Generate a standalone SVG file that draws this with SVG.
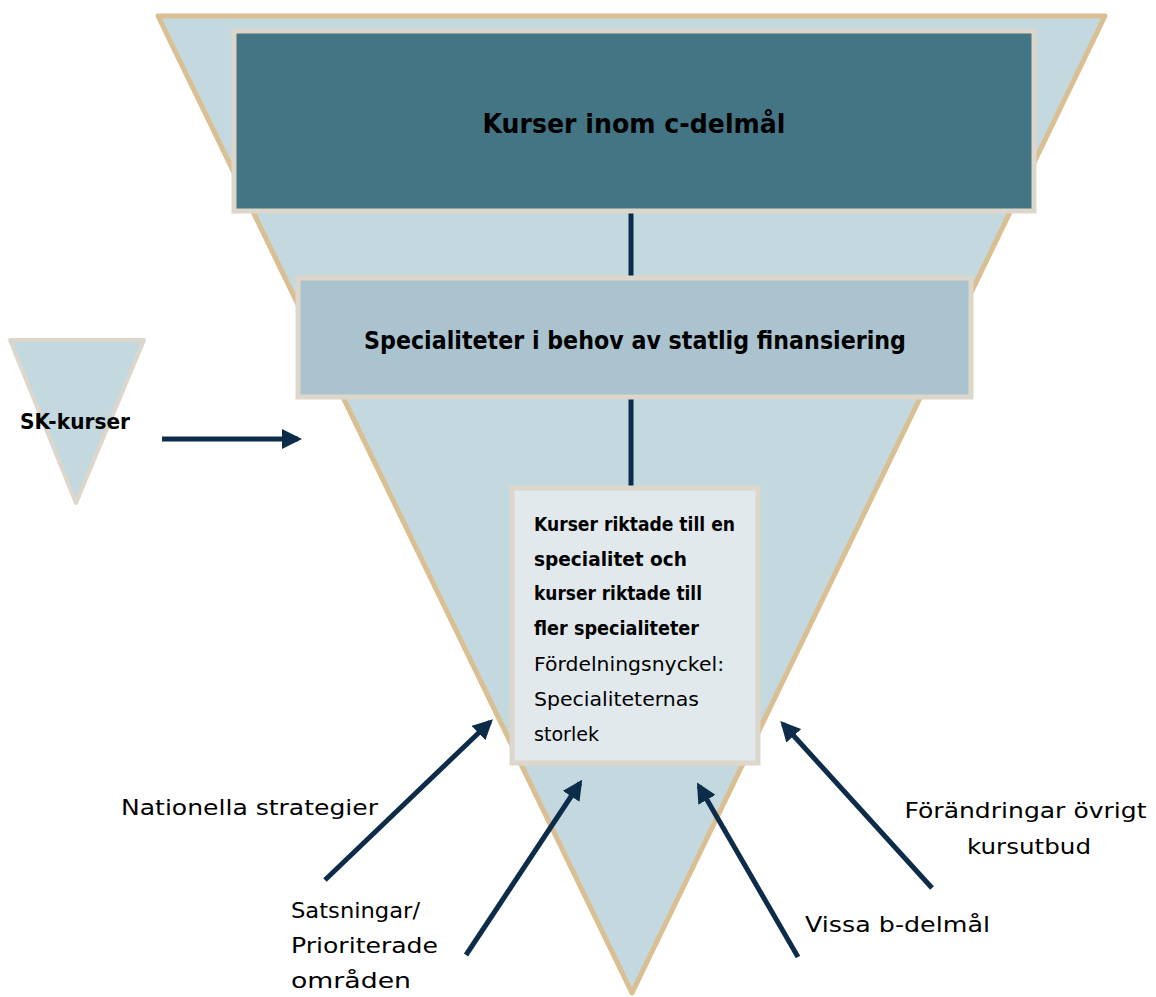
<svg xmlns="http://www.w3.org/2000/svg" width="1156" height="997" viewBox="0 0 1156 997">
<defs>
<style>
.tri{fill:#c4d8df;stroke:#d9bf92;stroke-width:5;stroke-linejoin:round}
.box{stroke:#ddd6ca;stroke-width:5}
.t{font-family:"DejaVu Sans","Liberation Sans",sans-serif;fill:#000}
.b{font-weight:bold}
.con{stroke:#0d2c4a;stroke-width:5;fill:none}
.arr{stroke:#0d2c4a;stroke-width:5;fill:none;marker-end:url(#ah)}
</style>
<marker id="ah" viewBox="0 0 10 10" refX="8" refY="5" markerWidth="4" markerHeight="4" orient="auto" markerUnits="strokeWidth">
<path d="M0,0 L10,5 L0,10 Z" fill="#0d2c4a"/>
</marker>
</defs>
<g id="funnel">
<polygon class="tri" points="158,16 1105,16 632,993"/>
</g>
<g id="sk">
<polygon points="10,340 144,340 76,503" fill="#c4d8df" stroke="#ddd6ca" stroke-width="4" stroke-linejoin="round"/>
<text class="t b" x="20" y="429" font-size="21" textLength="110" lengthAdjust="spacingAndGlyphs">SK-kurser</text>
</g>
<g id="connectors">
<line class="con" x1="631" y1="213" x2="631" y2="276"/>
<line class="con" x1="631" y1="399" x2="631" y2="486"/>
<line class="arr" x1="162" y1="439" x2="298" y2="439"/>
<line class="arr" x1="325" y1="880" x2="490" y2="722"/>
<line class="arr" x1="466" y1="955" x2="580" y2="783"/>
<line class="arr" x1="798" y1="957" x2="699" y2="786"/>
<line class="arr" x1="932" y1="888" x2="783" y2="724"/>
</g>
<g id="top">
<rect class="box" x="234" y="31" width="800" height="180" fill="#437585"/>
<text class="t b" x="634" y="133" font-size="26" text-anchor="middle" textLength="303" lengthAdjust="spacingAndGlyphs">Kurser inom c-delmål</text>
</g>
<g id="middle">
<rect class="box" x="298" y="278" width="673" height="119" fill="#abc3cf"/>
<text class="t b" x="635" y="349" font-size="24" text-anchor="middle" textLength="542" lengthAdjust="spacingAndGlyphs">Specialiteter i behov av statlig finansiering</text>
</g>
<g id="bottom">
<rect class="box" x="512" y="488" width="246" height="275" fill="#e1e9ec"/>
<text class="t b" font-size="19">
<tspan x="534" y="531" textLength="201" lengthAdjust="spacingAndGlyphs">Kurser riktade till en</tspan>
<tspan x="534" y="566" textLength="153" lengthAdjust="spacingAndGlyphs">specialitet och</tspan>
<tspan x="534" y="600" textLength="168" lengthAdjust="spacingAndGlyphs">kurser riktade till</tspan>
<tspan x="534" y="635" textLength="165" lengthAdjust="spacingAndGlyphs">fler specialiteter</tspan>
</text>
<text class="t" font-size="19">
<tspan x="534" y="671" textLength="190" lengthAdjust="spacingAndGlyphs">Fördelningsnyckel:</tspan>
<tspan x="534" y="706" textLength="165" lengthAdjust="spacingAndGlyphs">Specialiteternas</tspan>
<tspan x="534" y="741" textLength="65" lengthAdjust="spacingAndGlyphs">storlek</tspan>
</text>
</g>
<g id="labels">
<text class="t" x="121" y="815" font-size="22" textLength="257" lengthAdjust="spacingAndGlyphs">Nationella strategier</text>
<text class="t" font-size="22">
<tspan x="291" y="918" textLength="129" lengthAdjust="spacingAndGlyphs">Satsningar/</tspan>
<tspan x="291" y="953" textLength="147" lengthAdjust="spacingAndGlyphs">Prioriterade</tspan>
<tspan x="291" y="988" textLength="120" lengthAdjust="spacingAndGlyphs">områden</tspan>
</text>
<text class="t" x="805" y="932" font-size="22" textLength="185" lengthAdjust="spacingAndGlyphs">Vissa b-delmål</text>
<text class="t" font-size="22" text-anchor="middle">
<tspan x="1029" y="818" textLength="242" lengthAdjust="spacingAndGlyphs">Förändringar övrigt</tspan>
<tspan x="1029" y="854" textLength="124" lengthAdjust="spacingAndGlyphs">kursutbud</tspan>
</text>
</g>
</svg>
